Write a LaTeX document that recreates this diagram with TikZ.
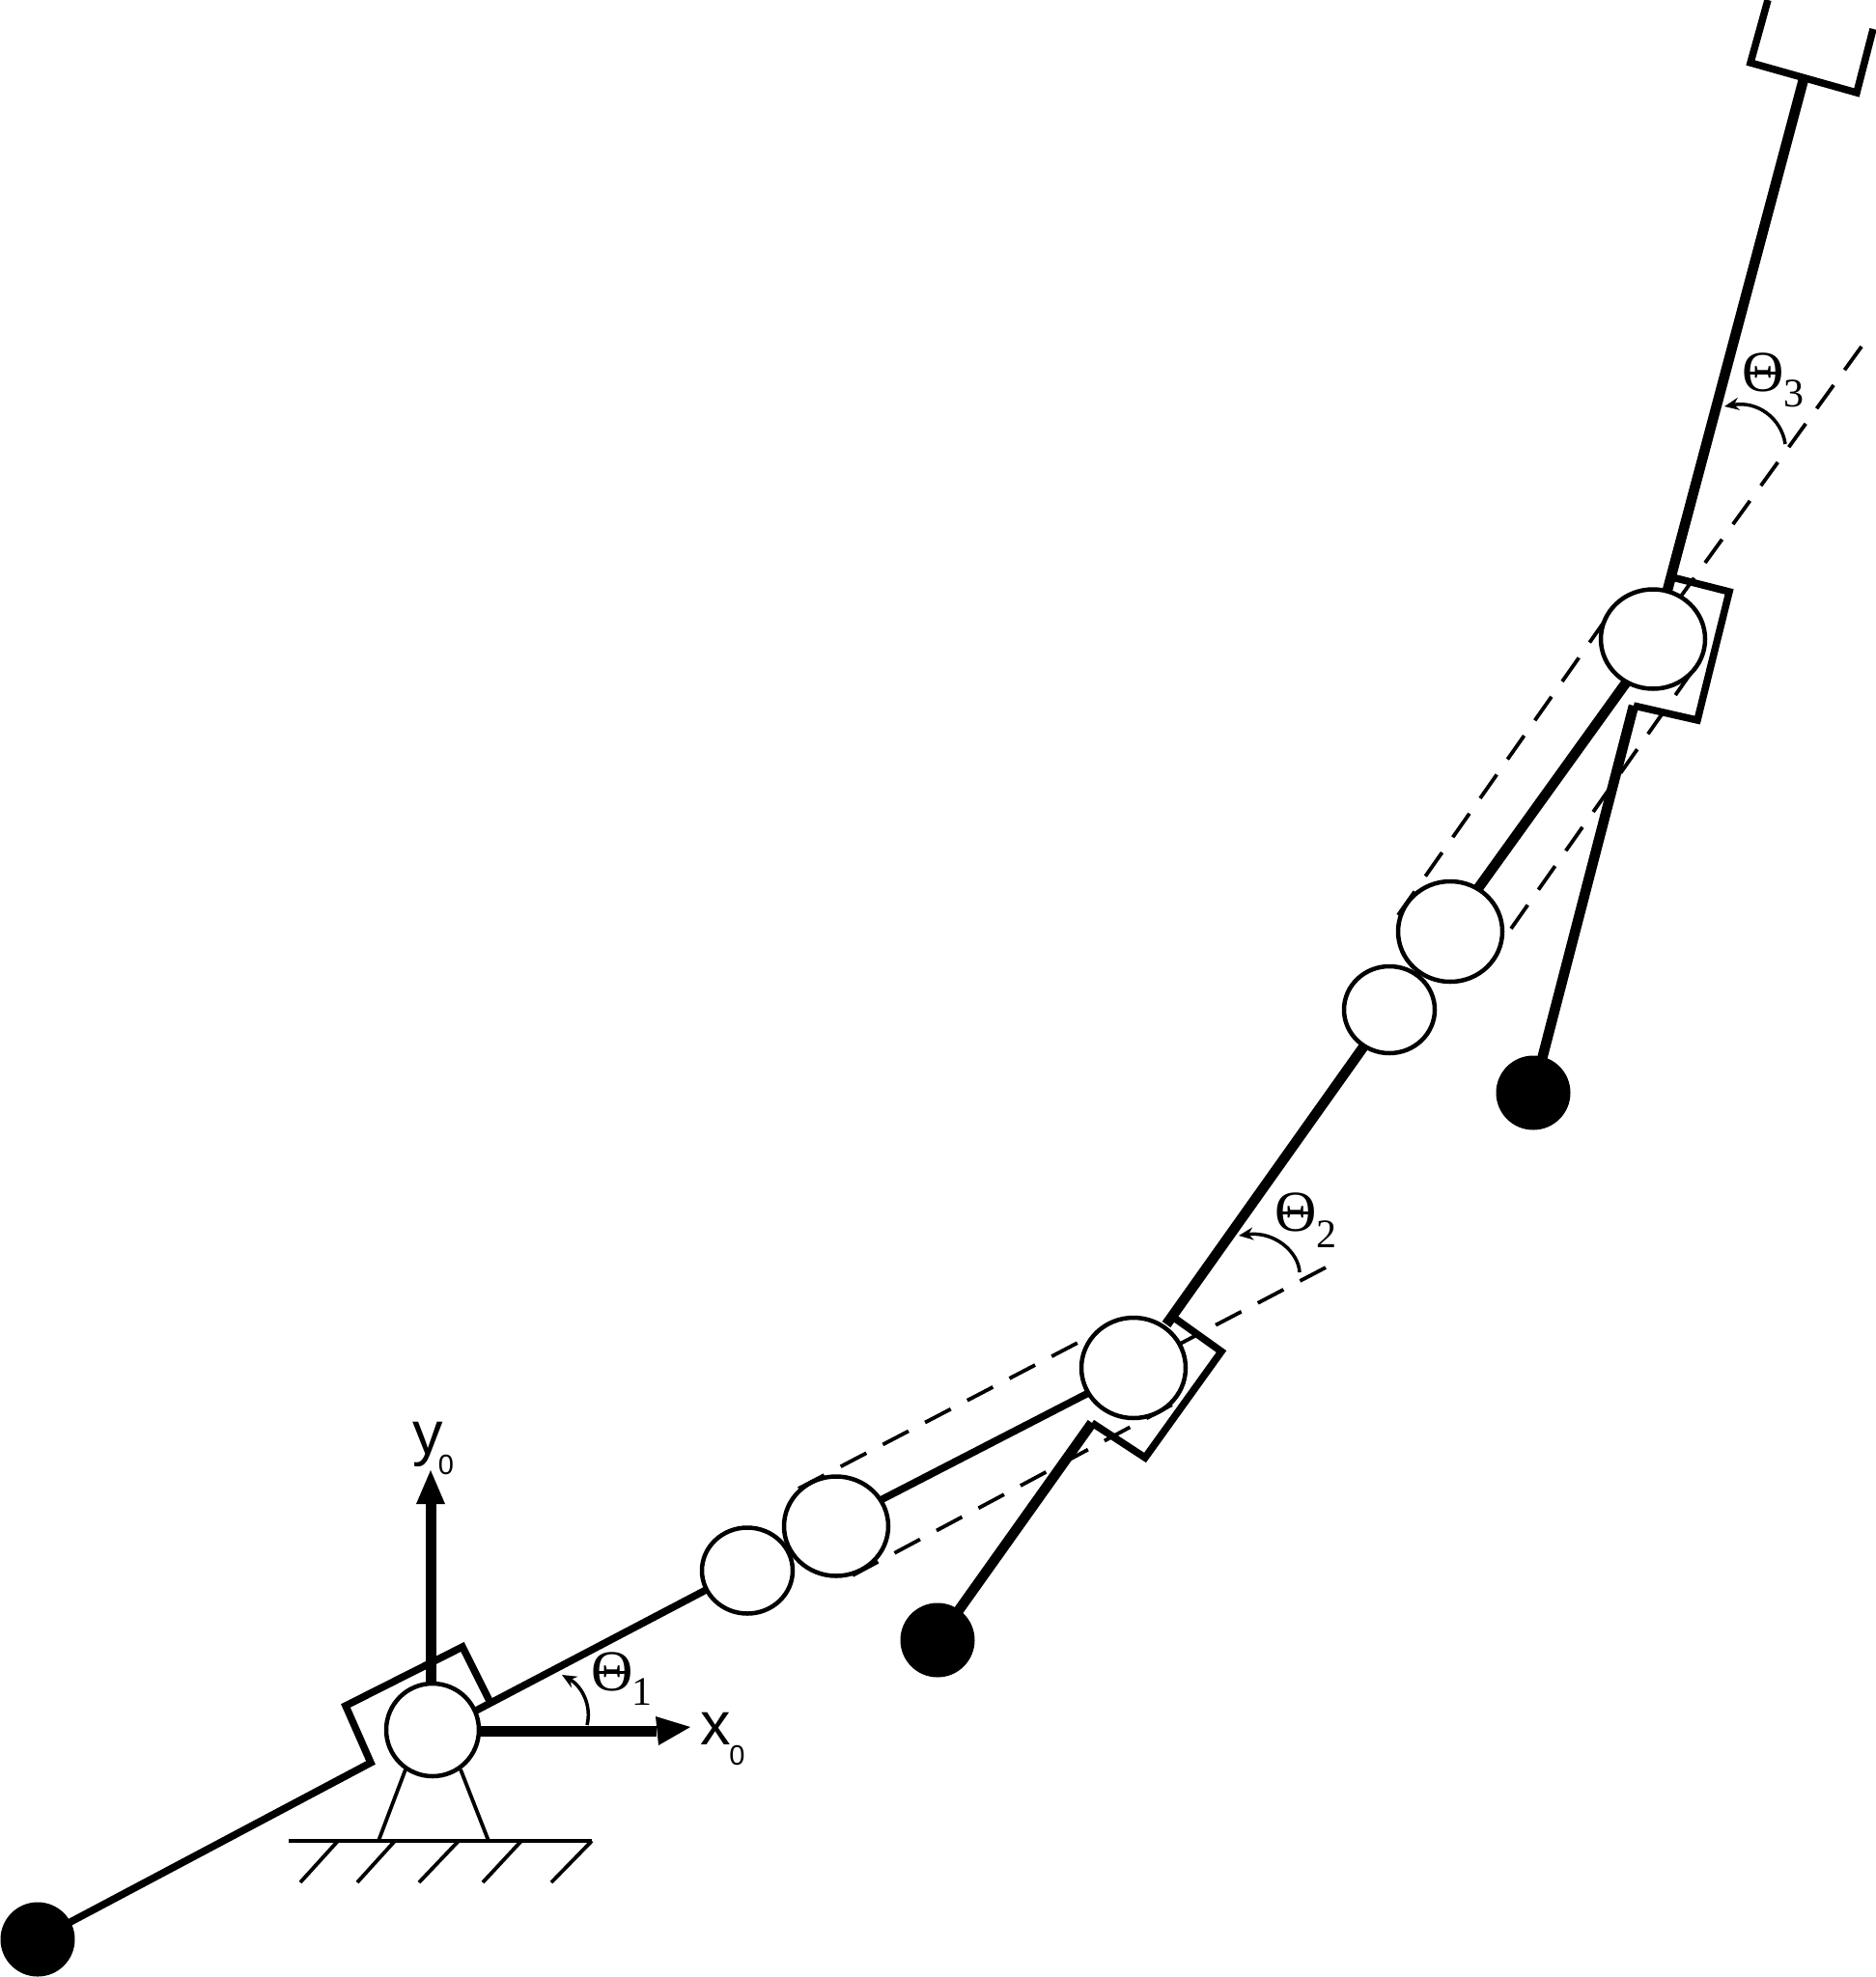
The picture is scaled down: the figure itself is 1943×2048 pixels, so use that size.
\documentclass[tikz,border=0pt]{standalone}
\usepackage{fontspec}
\setmainfont{Liberation Serif}
\newfontfamily\axisfont{Liberation Sans}
\usetikzlibrary{arrows.meta,shapes.geometric}
\tikzset{
  thin link/.style={line width=7.5pt,line join=miter,miter limit=10},
  thick link/.style={line width=10.5pt},
  bent/.style={line width=7.5pt,line join=miter,miter limit=10},
  refline/.style={line width=3.8pt,dash pattern=on 30pt off 19.3pt},
  ground/.style={line width=3.8pt},
  axis/.style={line width=11pt},
  tip/.style={fill=black,draw=none},
  angle arc/.style={line width=3.5pt},
  joint/.style={ellipse,draw=black,fill=white,line width=4.5pt,inner sep=0pt,outer sep=0pt},
  mass/.style={circle,fill=black,draw=none,inner sep=0pt,minimum size=77pt},
  axlabel/.style={inner sep=0pt,font=\axisfont\fontsize{63}{63}\selectfont},
  axsub/.style={inner sep=0pt,font=\axisfont\fontsize{29}{29}\selectfont},
  thetalabel/.style={inner sep=0pt,font=\fontsize{60}{60}\selectfont},
  thetasub/.style={inner sep=0pt,font=\fontsize{42}{42}\selectfont},
  thetabar/.style={line width=2.6pt},
}
\begin{document}
\begin{tikzpicture}[x=1pt,y=-1pt]
\useasboundingbox (0,0) rectangle (1943,2048);
\fill[white] (0,0) rectangle (1943,2048);
% centres
\coordinate (J1) at (448,1792);
\coordinate (A2) at (774,1627);
\coordinate (B2) at (866,1581);
\coordinate (J2) at (1174,1417);
\coordinate (A3) at (1439,1046);
\coordinate (B3) at (1502,965);
\coordinate (J3) at (1712,662);
\coordinate (M1) at (39,2009);
\coordinate (M2) at (971,1699);
\coordinate (M3) at (1588,1132);
% ground
\coordinate (G0) at (299,1907); \coordinate (G1) at (613,1907);
\coordinate (H1) at (350,1907); \coordinate (H1e) at (311,1950);
\coordinate (H2) at (409,1907); \coordinate (H2e) at (370,1950);
\coordinate (H3) at (475,1907); \coordinate (H3e) at (434,1950);
\coordinate (H4) at (540,1907); \coordinate (H4e) at (500,1950);
\coordinate (H5) at (613,1907); \coordinate (H5e) at (571,1950);
\coordinate (S1) at (392,1907); \coordinate (S1t) at (420,1833);
\coordinate (S2) at (506,1907); \coordinate (S2t) at (477,1833);
\draw[ground] (G0) -- (G1);
\draw[ground] (H1) -- (H1e);
\draw[ground] (H2) -- (H2e);
\draw[ground] (H3) -- (H3e);
\draw[ground] (H4) -- (H4e);
\draw[ground] (H5) -- (H5e);
\draw[ground] (S1) -- (S1t);
\draw[ground] (S2) -- (S2t);
% dashed reference lines
\coordinate (a2s) at (827,1542); \coordinate (a2e) at (1120,1389);
\coordinate (b2s) at (883,1632); \coordinate (b2e) at (1216,1454);
\coordinate (c2e) at (1373,1313); \coordinate (c2s) at (1205,1401);
\coordinate (a3s) at (1448,948); \coordinate (a3e) at (1665,639);
\coordinate (b3s) at (1565,962); \coordinate (b3e) at (1750,699);
\coordinate (c3e) at (1928,359); \coordinate (c3s) at (1732,630);
\draw[refline] (a2s) -- (a2e);
\draw[refline] (b2s) -- (b2e);
\draw[refline] (c2e) -- (c2s);
\draw[refline] (a3s) -- (a3e);
\draw[refline] (b3s) -- (b3e);
\draw[refline] (c3e) -- (c3s);
% axes
\coordinate (Yb) at (446,1558); \coordinate (Xb) at (680,1793);
\draw[axis] (J1 -| Yb) -- (Yb);
\draw[axis] (J1 |- Xb) -- (Xb);
\fill[tip] (446,1523) -- (431,1558) -- (461,1558) -- cycle;
\fill[tip] (715,1789) -- (679,1778) -- (682,1808) -- cycle;
% links
\coordinate (L1s) at (493,1772); \coordinate (L1e) at (735,1645);
\draw[thin link] (L1s) -- (L1e);
\coordinate (L2s) at (910,1555); \coordinate (L2e) at (1135,1439);
\draw[thin link] (L2s) -- (L2e);
\coordinate (L3s) at (1208,1372); \coordinate (L3e) at (1416,1079);
\draw[thick link] (L3s) -- (L3e);
\coordinate (L4s) at (1526,927); \coordinate (L4e) at (1690,699);
\draw[thick link] (L4s) -- (L4e);
\coordinate (L5s) at (1726,615); \coordinate (L5e) at (1868,82);
\draw[thick link] (L5s) -- (L5e);
% end effector
\coordinate (E1) at (1831,0); \coordinate (E2) at (1813,65);
\coordinate (E3) at (1923,96); \coordinate (E4) at (1940,30);
\draw[bent] (E1) -- (E2) -- (E3) -- (E4);
% bent pieces with masses
\coordinate (K1a) at (384,1826); \coordinate (K1b) at (358,1767);
\coordinate (K1c) at (479,1706); \coordinate (K1d) at (507,1762);
\draw[bent] (M1) -- (K1a) -- (K1b) -- (K1c) -- (K1d);
\coordinate (K2a) at (1131,1474); \coordinate (K2b) at (1186,1510);
\coordinate (K2c) at (1265,1400); \coordinate (K2d) at (1216,1365);
\draw[thick link] (M2) -- (K2a);
\draw[bent] (K2a) -- (K2b) -- (K2c) -- (K2d);
\coordinate (K3a) at (1692,731); \coordinate (K3b) at (1758,746);
\coordinate (K3c) at (1791,613); \coordinate (K3d) at (1732,598);
\draw[thick link] (M3) -- (K3a);
\draw[bent] (K3a) -- (K3b) -- (K3c) -- (K3d);
% joints
\node[joint,minimum width=96pt,minimum height=96pt] (j1) at (J1) {};
\node[joint,minimum width=94pt,minimum height=89pt] (a2) at (A2) {};
\node[joint,minimum width=108pt,minimum height=103pt] (b2) at (B2) {};
\node[joint,minimum width=108pt,minimum height=104pt] (j2) at (J2) {};
\node[joint,minimum width=94pt,minimum height=90pt] (a3) at (A3) {};
\node[joint,minimum width=108pt,minimum height=104pt] (b3) at (B3) {};
\node[joint,minimum width=108pt,minimum height=103pt] (j3) at (J3) {};
\node[mass] (m1) at (M1) {};
\node[mass] (m2) at (M2) {};
\node[mass] (m3) at (M3) {};
% angle arcs
\draw[angle arc,-{Stealth[length=15pt,width=13pt,open,fill=white]}] (608,1787) .. controls (613,1767) and (603,1747) .. (582,1735);
\draw[angle arc,-{Stealth[length=15pt,width=13pt]}] (1346,1318) .. controls (1345,1297) and (1320,1275) .. (1283,1280);
\draw[angle arc,-{Stealth[length=15pt,width=13pt]}] (1849,460) .. controls (1845,433) and (1820,415) .. (1786,421);
% labels
\node[axlabel] (xl) at (741,1791) {x};
\node[axsub] (xs) at (763.5,1818) {0};
\node[axlabel] (yl) at (443,1496) {y};
\node[axsub] (ys) at (462,1517) {0};
\node[thetalabel] (t1) at (634,1732) {Θ};
\node[thetasub] (t1s) at (665,1753) {1};
\node[thetalabel] (t2) at (1342,1256) {Θ};
\node[thetasub] (t2s) at (1374,1279) {2};
\node[thetalabel] (t3) at (1826,386) {Θ};
\node[thetasub] (t3s) at (1858,408) {3};
\draw[thetabar] ([xshift=-17pt,yshift=-0.5pt]t1.center) -- ([xshift=17pt,yshift=-0.5pt]t1.center);
\draw[thetabar] ([xshift=-17pt,yshift=-0.5pt]t2.center) -- ([xshift=17pt,yshift=-0.5pt]t2.center);
\draw[thetabar] ([xshift=-17pt,yshift=-0.5pt]t3.center) -- ([xshift=17pt,yshift=-0.5pt]t3.center);
\end{tikzpicture}
\end{document}
